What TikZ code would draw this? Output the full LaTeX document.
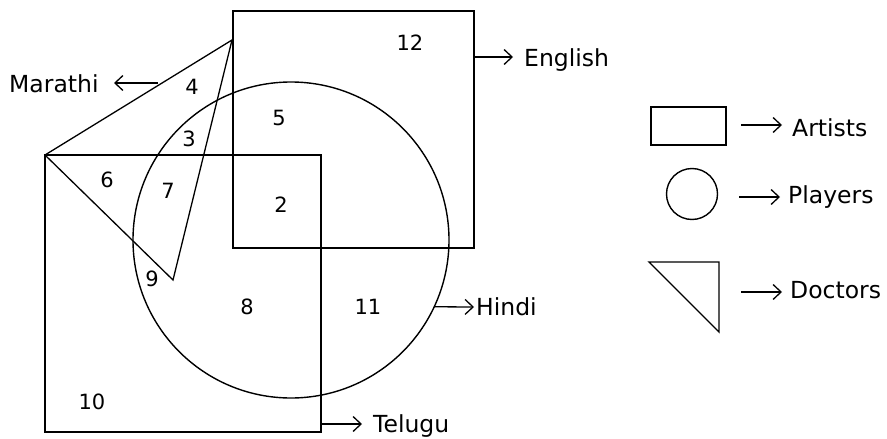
\documentclass[tikz,border=0pt]{standalone}
\usepackage{fontspec}
\setmainfont{DejaVu Sans}
\usetikzlibrary{arrows.meta}
\tikzset{
  shp/.style={draw=black, line width=1.4pt, inner sep=0pt, outer sep=0pt},
  edge/.style={draw=black, line width=1.3pt, line join=miter},
  arr/.style={draw=black, line width=1.3pt, -{Straight Barb[length=8pt,width=15pt,line width=1.3pt]}},
  lbl/.style={inner sep=0pt, anchor=base west, font=\fontsize{23.5pt}{26pt}\selectfont},
  num/.style={inner sep=0pt, font=\fontsize{21pt}{24pt}\selectfont},
}
\begin{document}
\begin{tikzpicture}[x=1pt,y=-1pt]
\useasboundingbox[fill=white] (0,0) rectangle (887,439);
% main shapes
\node[shp, minimum width=241pt, minimum height=237pt] (eng) at (353.5,129.5) {};
\node[shp, minimum width=276pt, minimum height=277pt] (tel) at (183,293.5) {};
\node[shp, circle, minimum size=316pt] (hin) at (291,240) {};
\coordinate (mA) at (45,155);
\coordinate (mB) at (232,40);
\coordinate (mC) at (173,280);
\draw[edge] (mA) -- (mB) -- (mC) -- cycle;
% region numbers
\node[num] (n12) at (410,43) {12};
\node[num] (n4) at (192,87) {4};
\node[num] (n5) at (279,118) {5};
\node[num] (n3) at (189,139) {3};
\node[num] (n6) at (107,180) {6};
\node[num] (n7) at (168,191) {7};
\node[num] (n2) at (281,205) {2};
\node[num] (n9) at (152,279) {9};
\node[num] (n8) at (247,307) {8};
\node[num] (n11) at (368,307) {11};
\node[num] (n10) at (92,402) {10};
% labels
\node[lbl] (lmar) at (9,92) {Marathi};
\coordinate (marA) at (158,83);
\coordinate (marB) at (114,83);
\draw[arr] (marA) -- (marB);
\node[lbl] (leng) at (524,66) {English};
\coordinate (engA) at (474,57);
\coordinate (engB) at (513,57);
\draw[arr] (engA) -- (engB);
\node[lbl] (lhin) at (476,315.5) {Hindi};
\coordinate (hinB) at (474,307);
\draw[arr] (hin.-25) -- (hinB);
\node[lbl] (ltel) at (373,432) {Telugu};
\coordinate (telA) at (321,424);
\coordinate (telB) at (362,424);
\draw[arr] (telA) -- (telB);
% legend
\node[shp, minimum width=75pt, minimum height=38pt] (kart) at (688.5,126) {};
\node[shp, circle, minimum size=51pt] (kpla) at (692,194) {};
\coordinate (kdA) at (649,262);
\coordinate (kdB) at (719,262);
\coordinate (kdC) at (719,332);
\draw[edge] (kdA) -- (kdB) -- (kdC) -- cycle;
\coordinate (a1) at (741,125);
\coordinate (a2) at (782,125);
\draw[arr] (a1) -- (a2);
\node[lbl] (lart) at (792,136) {Artists};
\coordinate (p1) at (739,197);
\coordinate (p2) at (780,197);
\draw[arr] (p1) -- (p2);
\node[lbl] (lpla) at (788,203) {Players};
\coordinate (d1) at (741,292);
\coordinate (d2) at (782,292);
\draw[arr] (d1) -- (d2);
\node[lbl] (ldoc) at (790,298.3) {Doctors};
\end{tikzpicture}
\end{document}
